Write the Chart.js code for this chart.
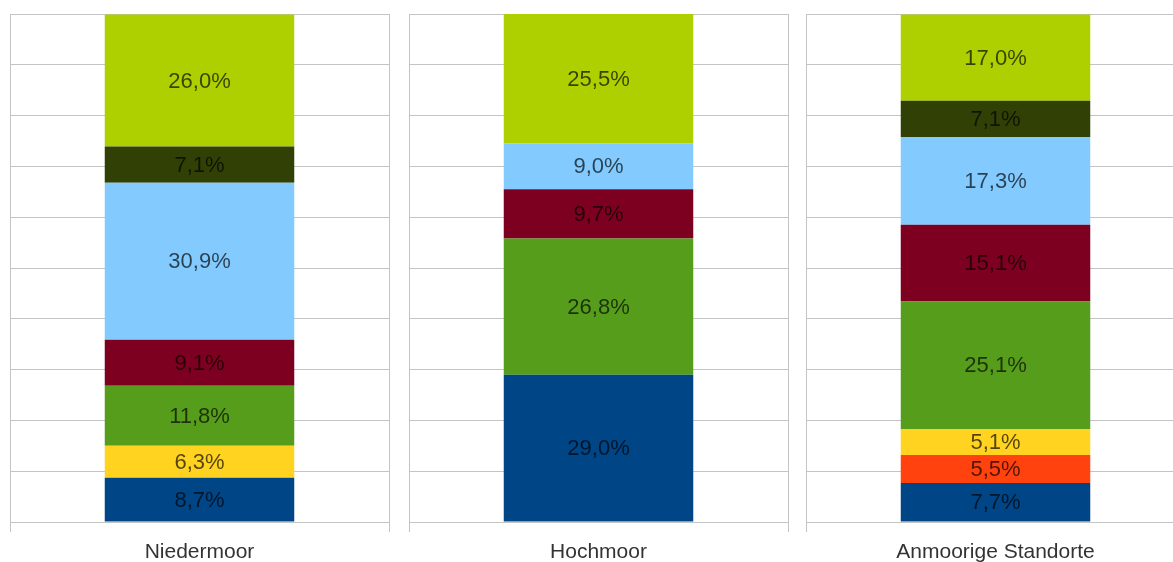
<!DOCTYPE html>
<html>
<head>
<meta charset="utf-8">
<script src="https://cdn.jsdelivr.net/npm/chart.js@4"></script>
<style>
  html, body { margin: 0; padding: 0; background: #fff; }
  body { width: 1173px; height: 562px; overflow: hidden; position: relative; }
  .panel { position: absolute; top: 0; height: 569px; }
</style>
</head>
<body>
<div class="panel" style="left:9px;width:381px"><canvas id="c0"></canvas></div>
<div class="panel" style="left:408px;width:381px"><canvas id="c1"></canvas></div>
<div class="panel" style="left:805px;width:381px"><canvas id="c2"></canvas></div>
<script>
// Standorte (one panel each)
const sites = ['Niedermoor', 'Hochmoor', 'Anmoorige Standorte'];

// Anteile in %, stacked bottom to top, one value per site
const blau      = [8.7, 29.0, 7.7];
const orange    = [0,   0,    5.5];
const gelb      = [6.3, 0,    5.1];
const gruen     = [11.8, 26.8, 25.1];
const weinrot   = [9.1, 9.7,  15.1];
const hellblau  = [30.9, 9.0, 17.3];
const olive     = [7.1, 0,    7.1];
const hellgruen = [26.0, 25.5, 17.0];

const yTicks = [0, 10, 20, 30, 40, 50, 60, 70, 80, 90, 100];

const series = [
    { values: blau,      color: '#004586' },
    { values: orange,    color: '#ff420e' },
    { values: gelb,      color: '#ffd320' },
    { values: gruen,     color: '#579d1c' },
    { values: weinrot,   color: '#7e0021' },
    { values: hellblau,  color: '#83caff' },
    { values: olive,     color: '#314004' },
    { values: hellgruen, color: '#aecf00' }
];

const FONT = '"Liberation Sans", Arial, sans-serif';
const GRID = '#c4c4c4';

const fmt = v => v.toFixed(1).replace('.', ',') + '%';

// draw the value in the middle of each segment
const barLabels = {
    id: 'barLabels',
    afterDatasetsDraw(chart) {
        const ctx = chart.ctx;
        ctx.save();
        ctx.font = '22px ' + FONT;
        ctx.textAlign = 'center';
        ctx.textBaseline = 'middle';
        ctx.fillStyle = 'rgba(0, 0, 0, 0.68)';
        chart.data.datasets.forEach((ds, i) => {
            chart.getDatasetMeta(i).data.forEach((bar, j) => {
                const v = ds.data[j];
                if (!v) return;
                const p = bar.getProps(['x', 'y', 'base'], true);
                ctx.fillText(fmt(v), p.x, (p.y + p.base) / 2 + 1);
            });
        });
        ctx.restore();
    }
};

sites.forEach((site, idx) => {
    new Chart(document.getElementById('c' + idx), {
        type: 'bar',
        data: {
            labels: [site],
            datasets: series.map(s => ({
                data: [s.values[idx]],
                backgroundColor: s.color,
                borderWidth: 0,
                categoryPercentage: 1,
                barPercentage: 0.5
            }))
        },
        options: {
            responsive: true,
            maintainAspectRatio: false,
            animation: false,
            layout: { padding: { top: 14, left: 1, right: 1, bottom: -4 } },
            plugins: {
                legend: { display: false },
                tooltip: { enabled: false }
            },
            scales: {
                x: {
                    stacked: true,
                    offset: true,
                    grid: {
                        offset: true,
                        color: GRID,
                        lineWidth: 1,
                        tickLength: 10
                    },
                    border: { display: false },
                    ticks: {
                        color: '#333333',
                        padding: 10,
                        font: { size: 21, family: FONT, lineHeight: 1 }
                    }
                },
                y: {
                    stacked: true,
                    min: 0,
                    max: 100,
                    afterBuildTicks: axis => {
                        axis.ticks = yTicks.map(v => ({ value: v }));
                    },
                    grid: {
                        color: GRID,
                        lineWidth: 1,
                        drawTicks: false
                    },
                    border: { display: false },
                    ticks: { display: false }
                }
            }
        },
        plugins: [barLabels]
    });
});
</script>
</body>
</html>
